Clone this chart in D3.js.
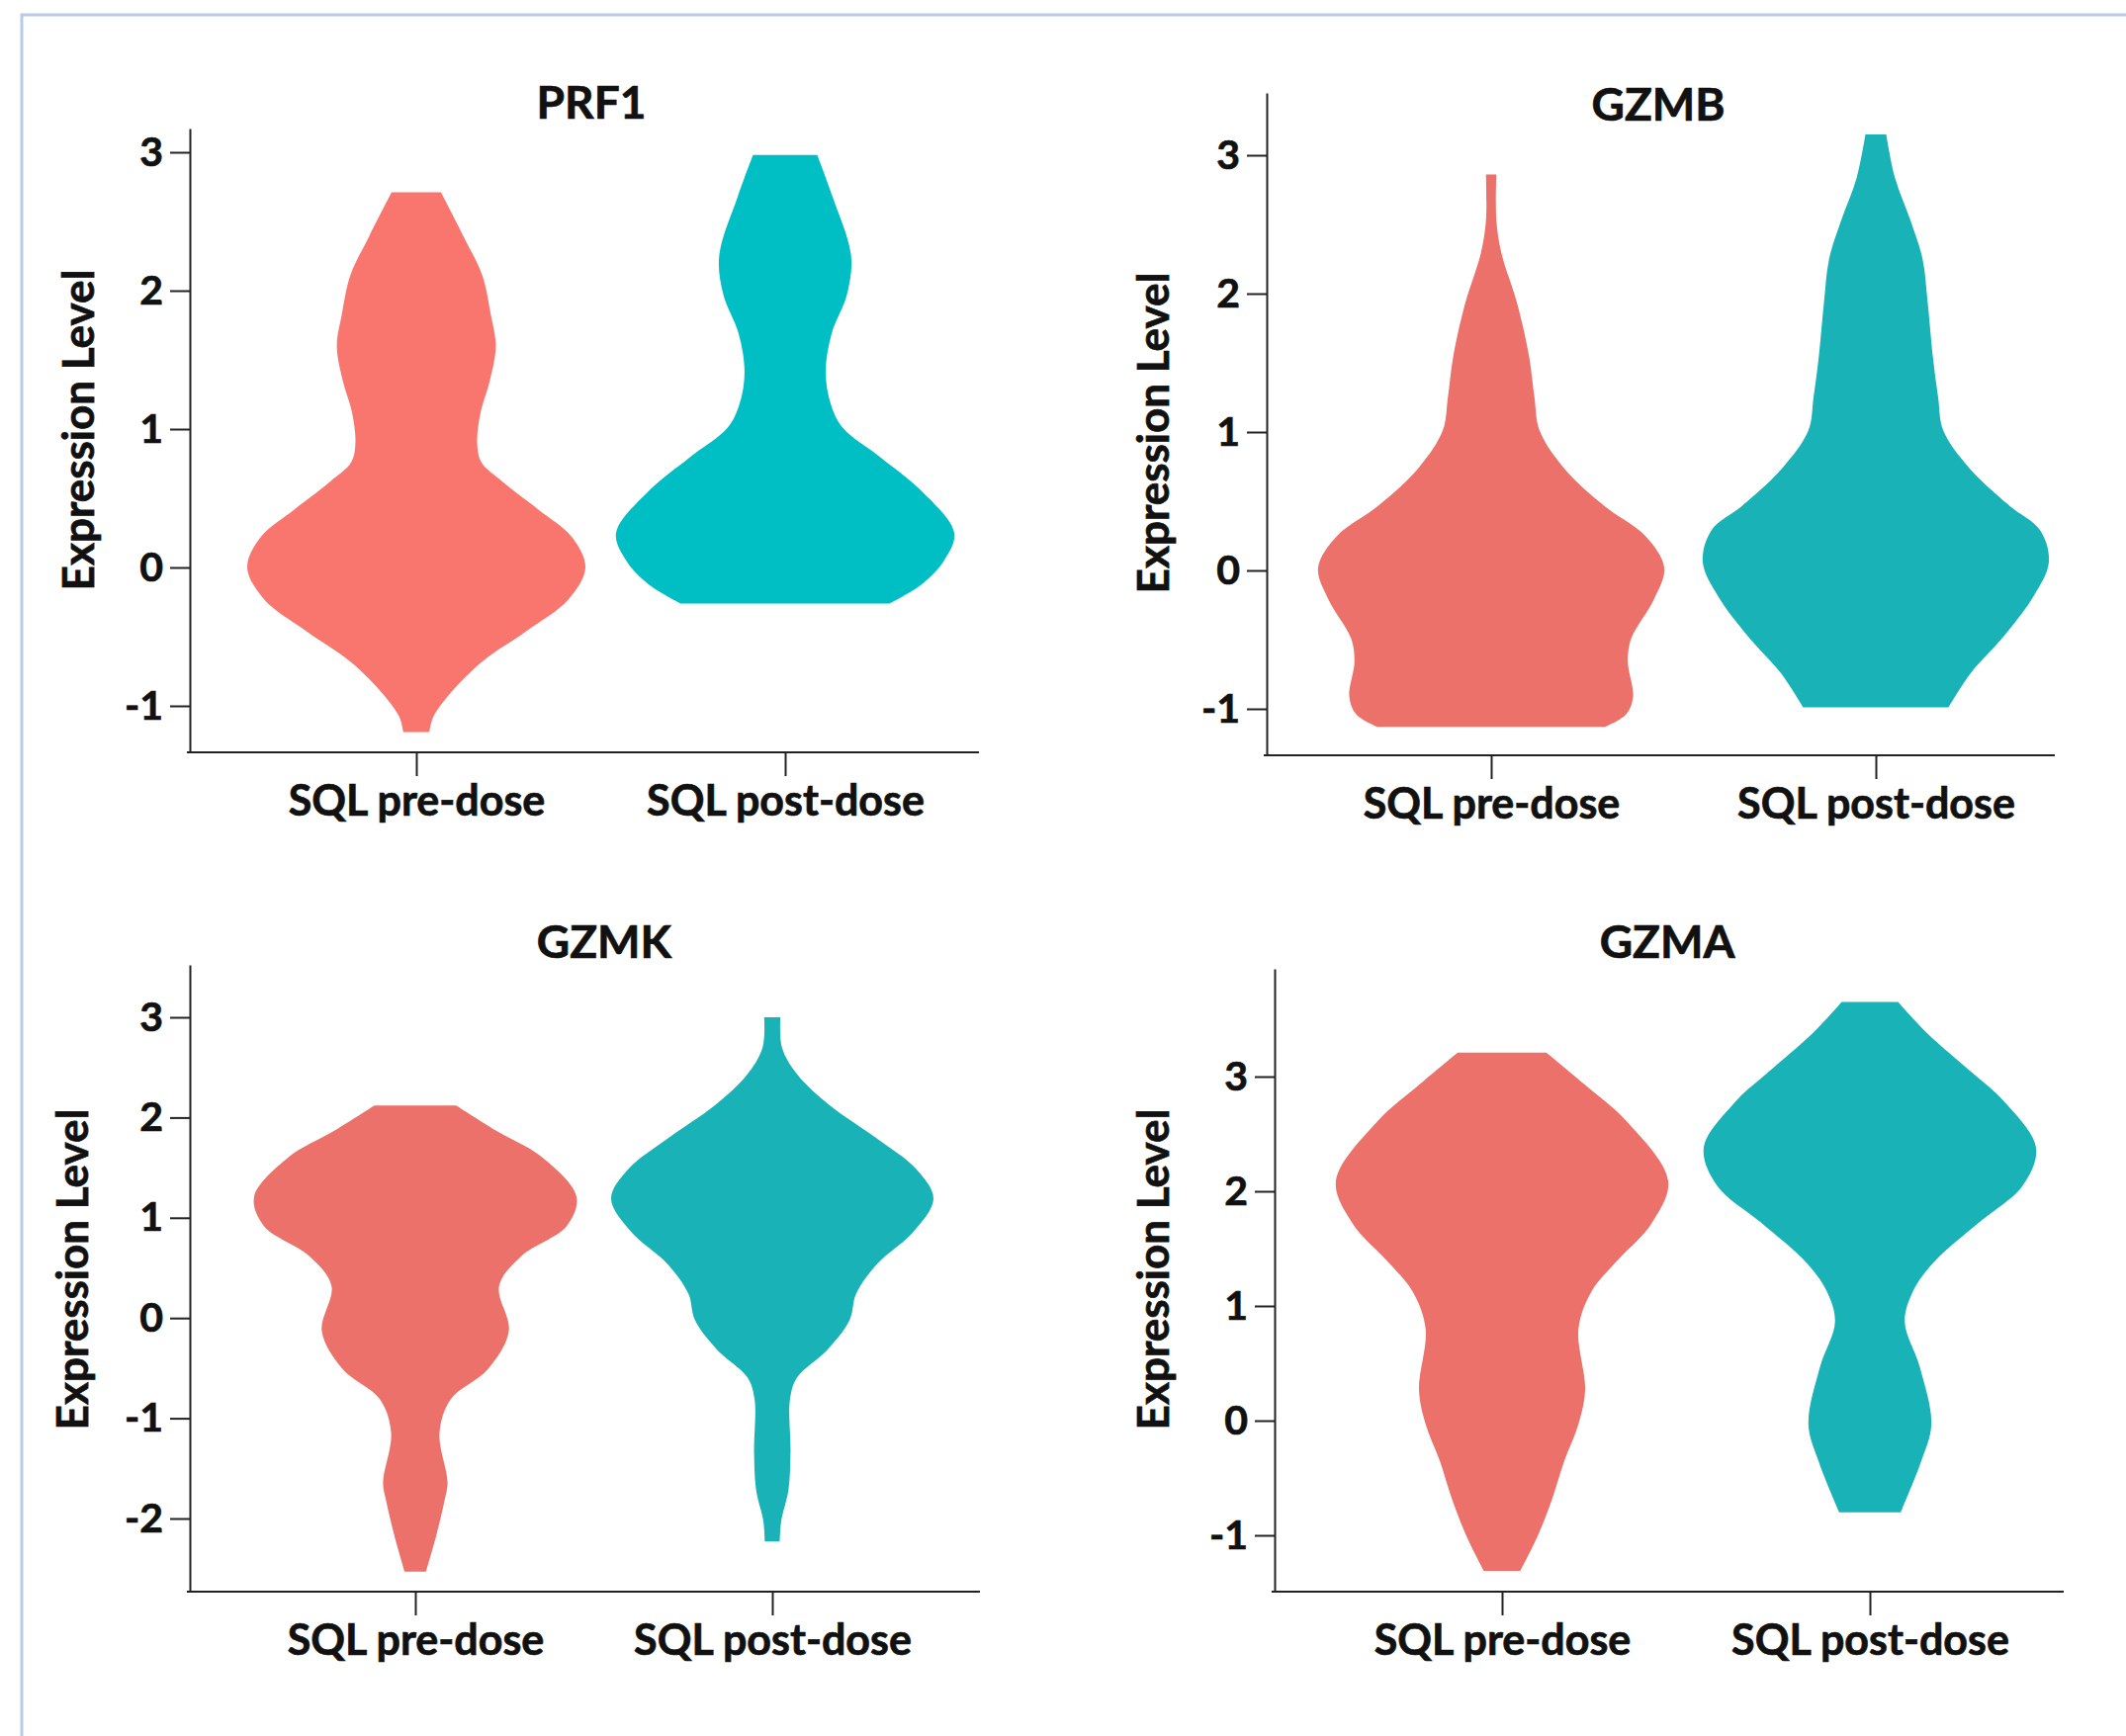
<!DOCTYPE html>
<html>
<head>
<meta charset="utf-8">
<script src="https://cdn.jsdelivr.net/npm/d3@7"></script>
<style>
  body { margin: 0; background: #fff; }
  text { font-family: Lato, "Open Sans", sans-serif; font-weight: bold; fill: #111; stroke: #111; stroke-width: 0.7px; }
</style>
</head>
<body>
<svg id="canvas" width="2150" height="1756"></svg>
<script>
const genes = ["PRF1", "GZMB", "GZMK", "GZMA"];
const groups = ["SQL pre-dose", "SQL post-dose"];
const yTicksPRF1 = [-1, 0, 1, 2, 3];
const yTicksGZMB = [-1, 0, 1, 2, 3];
const yTicksGZMK = [-2, -1, 0, 1, 2, 3];
const yTicksGZMA = [-1, 0, 1, 2, 3];

// expression level (top to bottom) and relative density at that level
const prf1PreLevel   = [2.71, 2.39, 2.11, 1.83, 1.60, 1.35, 1.12, 0.90, 0.76, 0.62, 0.42, 0.22, 0.0, -0.23, -0.46, -0.68, -0.91, -1.08, -1.19];
const prf1PreDensity = [0.146, 0.28, 0.39, 0.44, 0.47, 0.435, 0.38, 0.36, 0.385, 0.51, 0.72, 0.92, 1.0, 0.90, 0.65, 0.39, 0.20, 0.10, 0.077];
const prf1PostLevel   = [2.98, 2.68, 2.25, 1.97, 1.69, 1.41, 1.18, 1.01, 0.79, 0.56, 0.25, 0.05, -0.12, -0.26];
const prf1PostDensity = [0.19, 0.28, 0.39, 0.365, 0.275, 0.24, 0.27, 0.34, 0.57, 0.80, 1.0, 0.94, 0.81, 0.62];

const gzmbPreLevel   = [2.86, 2.53, 2.29, 1.93, 1.54, 1.25, 1.01, 0.74, 0.47, 0.25, 0.02, -0.21, -0.49, -0.66, -0.91, -1.04, -1.13];
const gzmbPreDensity = [0.03, 0.03, 0.06, 0.15, 0.22, 0.25, 0.28, 0.42, 0.65, 0.89, 1.0, 0.94, 0.81, 0.79, 0.82, 0.78, 0.66];
const gzmbPostLevel   = [3.15, 2.84, 2.53, 2.25, 1.93, 1.54, 1.25, 1.01, 0.74, 0.47, 0.29, 0.06, -0.19, -0.49, -0.74, -0.99];
const gzmbPostDensity = [0.06, 0.11, 0.20, 0.27, 0.30, 0.33, 0.36, 0.39, 0.54, 0.77, 0.95, 1.0, 0.91, 0.73, 0.55, 0.42];

const gzmkPreLevel   = [2.12, 1.87, 1.60, 1.21, 0.92, 0.62, 0.32, -0.13, -0.51, -0.81, -1.15, -1.64, -1.83, -2.17, -2.53];
const gzmkPreDensity = [0.254, 0.50, 0.79, 1.0, 0.94, 0.66, 0.52, 0.58, 0.45, 0.22, 0.15, 0.20, 0.18, 0.13, 0.066];
const gzmkPostLevel   = [3.0, 2.70, 2.43, 2.13, 1.79, 1.49, 1.19, 0.85, 0.54, 0.24, -0.02, -0.32, -0.59, -0.81, -1.34, -1.72, -2.02, -2.23];
const gzmkPostDensity = [0.05, 0.06, 0.155, 0.35, 0.65, 0.89, 1.0, 0.87, 0.65, 0.52, 0.48, 0.34, 0.155, 0.11, 0.113, 0.10, 0.056, 0.046];

const gzmaPreLevel   = [3.21, 2.94, 2.61, 2.09, 1.72, 1.39, 1.13, 0.80, 0.27, -0.03, -0.35, -0.69, -1.02, -1.31];
const gzmaPreDensity = [0.267, 0.49, 0.75, 1.0, 0.90, 0.69, 0.54, 0.46, 0.50, 0.46, 0.375, 0.30, 0.21, 0.11];
const gzmaPostLevel   = [3.65, 3.37, 3.04, 2.78, 2.38, 2.05, 1.72, 1.39, 1.13, 0.86, 0.47, -0.03, -0.35, -0.80];
const gzmaPostDensity = [0.17, 0.35, 0.61, 0.81, 1.0, 0.92, 0.65, 0.39, 0.26, 0.21, 0.30, 0.37, 0.31, 0.185];

const violins = [
  [[prf1PreLevel, prf1PreDensity], [prf1PostLevel, prf1PostDensity]],
  [[gzmbPreLevel, gzmbPreDensity], [gzmbPostLevel, gzmbPostDensity]],
  [[gzmkPreLevel, gzmkPreDensity], [gzmkPostLevel, gzmkPostDensity]],
  [[gzmaPreLevel, gzmaPreDensity], [gzmaPostLevel, gzmaPostDensity]]
];
const ticks = [yTicksPRF1, yTicksGZMB, yTicksGZMK, yTicksGZMA];

// panel layout in pixels
const panels = [
  {ax: 192, top: 130, bottom: 761, right: 990, lo: 714, hi: 154, cats: [421, 794], half: 171, tx: 598, ty: 120, lx: 95, ly: 435,
   colors: ["#F8766D", "#00BFC4"]},
  {ax: 1281, top: 94, bottom: 764, right: 2078, lo: 717, hi: 157, cats: [1508, 1897], half: 175, tx: 1677, ty: 122, lx: 1182, ly: 438,
   colors: ["#EB716A", "#19B3B7"]},
  {ax: 192, top: 976, bottom: 1610, right: 991, lo: 1536, hi: 1029, cats: [420, 781], half: 163, tx: 611, ty: 969, lx: 89, ly: 1284,
   colors: ["#EB716A", "#19B3B7"]},
  {ax: 1289, top: 980, bottom: 1610, right: 2087, lo: 1553, hi: 1089, cats: [1519, 1891], half: 168, tx: 1686, ty: 969, lx: 1182, ly: 1284,
   colors: ["#EB716A", "#19B3B7"]}
];

let canvas = d3.select("#canvas");

// light blue frame
canvas.append("rect")
      .attr("x", 22).attr("y", 15)
      .attr("width", 2300).attr("height", 1900)
      .attr("fill", "none")
      .attr("stroke", "#B8CAE8")
      .attr("stroke-width", 3);

let drawPanel = (i) => {
  let p = panels[i];
  let tk = ticks[i];
  let g = canvas.append("g");

  let base = d3.scaleLinear()
               .domain([tk[0], tk[tk.length - 1]])
               .range([p.lo, p.hi]);
  let y = d3.scaleLinear()
            .domain([base.invert(p.bottom), base.invert(p.top)])
            .range([p.bottom, p.top]);

  let x = d3.scalePoint()
            .domain(groups)
            .range(p.cats);

  let w = d3.scaleLinear()
            .domain([0, 1])
            .range([0, p.half]);

  // violins
  violins[i].forEach((v, j) => {
    let pts = v[0].map((lev, k) => ({level: lev, dens: v[1][k]}));
    let cx = x(groups[j]);
    let area = d3.area()
                 .y((d) => y(d.level))
                 .x0((d) => cx - w(d.dens))
                 .x1((d) => cx + w(d.dens))
                 .curve(d3.curveCatmullRom.alpha(0.5));
    g.append("path")
     .datum(pts)
     .attr("d", area)
     .attr("fill", p.colors[j]);
  });

  // y axis
  let yAxis = d3.axisLeft(y)
                .tickValues(tk)
                .tickFormat((d) => String(d))
                .tickSize(20)
                .tickSizeOuter(0)
                .tickPadding(7);
  let ya = g.append("g")
            .attr("transform", `translate(${p.ax},0)`)
            .call(yAxis);
  ya.selectAll("path, line").attr("stroke", "#222").attr("stroke-width", 2);
  ya.selectAll("text")
    .attr("font-size", 41)
    .attr("font-family", "Lato, sans-serif")
    .attr("font-weight", "bold")
    .attr("fill", "#111");

  // x axis line
  g.append("line")
   .attr("x1", p.ax - 3).attr("x2", p.right)
   .attr("y1", p.bottom).attr("y2", p.bottom)
   .attr("stroke", "#222").attr("stroke-width", 2);

  let xAxis = d3.axisBottom(x)
                .tickSize(24)
                .tickSizeOuter(0)
                .tickPadding(9);
  let xa = g.append("g")
            .attr("transform", `translate(0,${p.bottom})`)
            .call(xAxis);
  xa.select(".domain").remove();
  xa.selectAll("line").attr("stroke", "#222").attr("stroke-width", 2);
  xa.selectAll("text")
    .attr("font-size", 43)
    .attr("font-family", "Lato, sans-serif")
    .attr("font-weight", "bold")
    .attr("fill", "#111");

  // title
  g.append("text")
   .attr("x", p.tx).attr("y", p.ty)
   .attr("text-anchor", "middle")
   .attr("font-size", 46)
   .text(genes[i]);

  // y label
  g.append("text")
   .attr("transform", `translate(${p.lx},${p.ly}) rotate(-90)`)
   .attr("text-anchor", "middle")
   .attr("font-size", 44)
   .text("Expression Level");
};

panels.forEach((p, i) => drawPanel(i));
</script>
</body>
</html>
